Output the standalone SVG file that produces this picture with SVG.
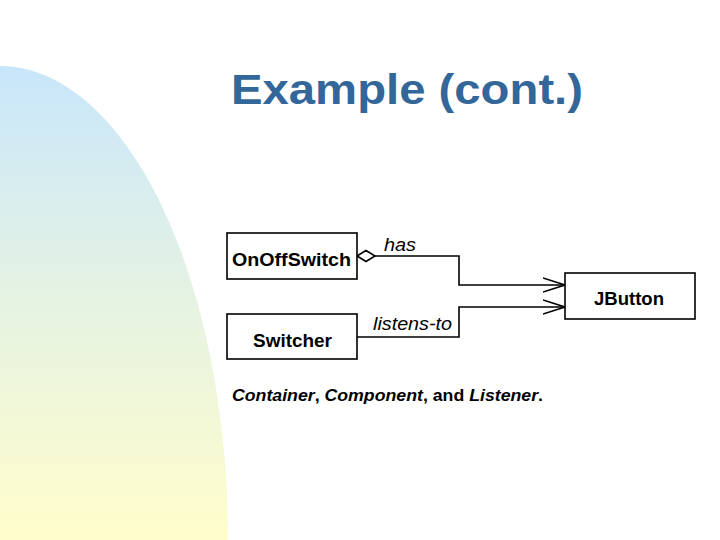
<svg xmlns="http://www.w3.org/2000/svg" width="720" height="540" viewBox="0 0 720 540">
<defs>
<linearGradient id="bg" x1="0" y1="0" x2="0" y2="1">
<stop offset="0" stop-color="#c8e6fb"/>
<stop offset="0.5" stop-color="#e6f3e2"/>
<stop offset="1" stop-color="#fffdcb"/>
</linearGradient>
<marker id="open" markerWidth="24" markerHeight="16" refX="22" refY="8" orient="auto" markerUnits="userSpaceOnUse">
<path d="M0,1 L22,8 L0,15" fill="none" stroke="#000" stroke-width="1.6"/>
</marker>
</defs>
<style>
.box{fill:#fff;stroke:#000;stroke-width:1.6}
.lbl{font-family:"Liberation Sans",Arial,sans-serif;font-weight:bold;font-size:18.5px;fill:#000}
.edge{fill:none;stroke:#000;stroke-width:1.6}
.role{font-family:"Liberation Sans",Arial,sans-serif;font-style:italic;font-size:18px;fill:#000}
</style>
<rect width="720" height="540" fill="#fff"/>
<path d="M0,540 L0,66 A228,474 0 0 1 228,540 Z" fill="url(#bg)"/>
<text x="231" y="104" font-family="'Liberation Sans',Arial,sans-serif" font-weight="bold" font-size="43" fill="#336699" textLength="352" lengthAdjust="spacingAndGlyphs">Example (cont.)</text>
<g id="connectors">
<path class="edge" d="M375,256 L459,256 L459,285 L565,285" marker-end="url(#open)"/>
<path d="M357,256 L366,250.5 L375,256 L366,261.5 Z" fill="#fff" stroke="#000" stroke-width="1.6"/>
<path class="edge" d="M357,337 L459,337 L459,307 L565,307" marker-end="url(#open)"/>
<text class="role" x="384" y="251" textLength="32" lengthAdjust="spacingAndGlyphs">has</text>
<text class="role" x="373" y="330" textLength="79" lengthAdjust="spacingAndGlyphs">listens-to</text>
</g>
<g id="onoffswitch">
<rect class="box" x="227" y="233" width="130" height="46"/>
<text class="lbl" x="232" y="266" textLength="119" lengthAdjust="spacingAndGlyphs">OnOffSwitch</text>
</g>
<g id="switcher">
<rect class="box" x="227" y="314" width="130" height="45"/>
<text class="lbl" x="253" y="347" textLength="79" lengthAdjust="spacingAndGlyphs">Switcher</text>
</g>
<g id="jbutton">
<rect class="box" x="565" y="273" width="130" height="46"/>
<text class="lbl" x="594" y="305" textLength="70" lengthAdjust="spacingAndGlyphs">JButton</text>
</g>
<text x="232" y="401" font-family="'Liberation Sans',Arial,sans-serif" font-size="17" font-weight="bold" fill="#000" textLength="311" lengthAdjust="spacingAndGlyphs"><tspan font-style="italic">Container</tspan>, <tspan font-style="italic">Component</tspan>, and <tspan font-style="italic">Listener</tspan>.</text>
</svg>
